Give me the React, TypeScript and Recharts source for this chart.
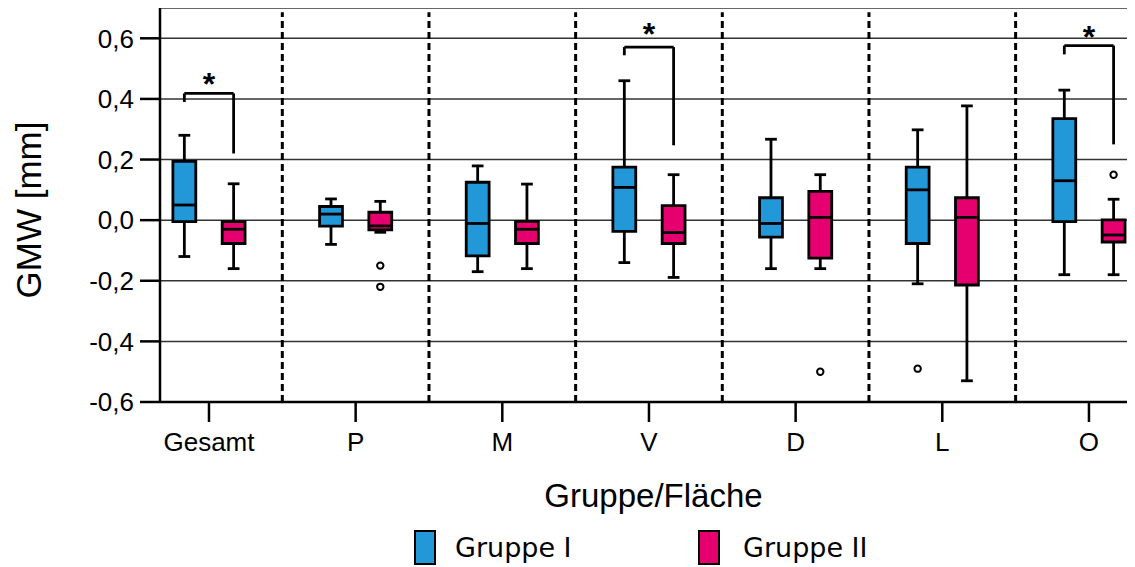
import {
  ComposedChart,
  XAxis,
  YAxis,
  CartesianGrid,
  ReferenceArea,
  ReferenceLine,
  ReferenceDot,
  Scatter,
} from "recharts";

const categories = ["Gesamt", "P", "M", "V", "D", "L", "O"];
const yTicks = [-0.6, -0.4, -0.2, 0, 0.2, 0.4, 0.6];

// Gruppe I (blue)
const g1Min = [-0.12, -0.08, -0.17, -0.14, -0.16, -0.21, -0.18];
const g1Q1 = [-0.005, -0.02, -0.118, -0.037, -0.056, -0.077, -0.005];
const g1Median = [0.05, 0.02, -0.011, 0.108, -0.011, 0.1, 0.13];
const g1Q3 = [0.194, 0.045, 0.125, 0.175, 0.074, 0.175, 0.335];
const g1Max = [0.28, 0.07, 0.179, 0.46, 0.267, 0.298, 0.429];
const g1Outliers = [{ cat: 5, value: -0.49 }];

// Gruppe II (pink)
const g2Min = [-0.16, -0.04, -0.16, -0.189, -0.16, -0.53, -0.18];
const g2Q1 = [-0.077, -0.032, -0.077, -0.077, -0.125, -0.214, -0.072];
const g2Median = [-0.03, -0.019, -0.03, -0.041, 0.009, 0.009, -0.049];
const g2Q3 = [-0.005, 0.026, -0.004, 0.048, 0.095, 0.074, 0.001];
const g2Max = [0.12, 0.062, 0.119, 0.15, 0.15, 0.377, 0.069];
const g2Outliers = [
  { cat: 1, value: -0.15 },
  { cat: 1, value: -0.22 },
  { cat: 4, value: -0.5 },
  { cat: 6, value: 0.15 },
];

// significance brackets
const sigCats = [0, 3, 6];
const sigTop = [0.418, 0.571, 0.576];
const sigLeftEnd = [0.39, 0.544, 0.547];
const sigRightEnd = [0.22, 0.247, 0.25];
const sigStarY = [0.45, 0.614, 0.606];

const BLUE = "#2398d9";
const PINK = "#e6006f";
const FONT = "'Liberation Sans', Arial, sans-serif";
const OFFSET = 0.168;
const HALF_BOX = 0.078;
const HALF_CAP = 0.04;
const LW = 2.8;

const groups = [
  { min: g1Min, q1: g1Q1, med: g1Median, q3: g1Q3, max: g1Max, color: BLUE, dx: -OFFSET, out: g1Outliers },
  { min: g2Min, q1: g2Q1, med: g2Median, q3: g2Q3, max: g2Max, color: PINK, dx: OFFSET, out: g2Outliers },
];

const Ring = (p: any) => (
  <circle cx={p.cx} cy={p.cy} r={3.2} fill="#fff" stroke="#000" strokeWidth={2} />
);

const XTitle = (p: any) => {
  const vb = p.viewBox;
  return (
    <text
      x={vb.x + vb.width / 2 + 6}
      y={vb.y + 105}
      textAnchor="middle"
      fontSize={33}
      fontFamily={FONT}
      fill="#000"
    >
      Gruppe/Fläche
    </text>
  );
};

const YTitle = (p: any) => {
  const vb = p.viewBox;
  const cx = vb.x + 33;
  const cy = vb.y + 202;
  return (
    <text
      x={cx}
      y={cy}
      transform={`rotate(-90, ${cx}, ${cy})`}
      textAnchor="middle"
      fontSize={35}
      fontFamily={FONT}
      fill="#000"
    >
      GMW [mm]
    </text>
  );
};

export default function App() {
  const whiskers: any[] = [];
  const boxes: any[] = [];
  const medians: any[] = [];

  groups.forEach((g, gi) => {
    categories.forEach((_, i) => {
      const x = i + g.dx;
      const k = `${gi}-${i}`;
      whiskers.push(
        <ReferenceLine key={`wu${k}`} segment={[{ x, y: g.q3[i] }, { x, y: g.max[i] }]} stroke="#000" strokeWidth={LW} />,
        <ReferenceLine key={`wl${k}`} segment={[{ x, y: g.min[i] }, { x, y: g.q1[i] }]} stroke="#000" strokeWidth={LW} />,
        <ReferenceLine key={`cu${k}`} segment={[{ x: x - HALF_CAP, y: g.max[i] }, { x: x + HALF_CAP, y: g.max[i] }]} stroke="#000" strokeWidth={LW} />,
        <ReferenceLine key={`cl${k}`} segment={[{ x: x - HALF_CAP, y: g.min[i] }, { x: x + HALF_CAP, y: g.min[i] }]} stroke="#000" strokeWidth={LW} />
      );
      boxes.push(
        <ReferenceArea
          key={`b${k}`}
          x1={x - HALF_BOX}
          x2={x + HALF_BOX}
          y1={g.q1[i]}
          y2={g.q3[i]}
          fill={g.color}
          fillOpacity={1}
          stroke="#000"
          strokeWidth={LW}
        />
      );
      medians.push(
        <ReferenceLine key={`m${k}`} segment={[{ x: x - HALF_BOX, y: g.med[i] }, { x: x + HALF_BOX, y: g.med[i] }]} stroke="#000" strokeWidth={LW} />
      );
    });
  });

  const separators = categories.slice(1).map((_, i) => (
    <ReferenceLine
      key={`sep${i}`}
      segment={[{ x: i + 0.5, y: -0.6 }, { x: i + 0.5, y: 0.686 }]}
      stroke="#000"
      strokeWidth={3}
      strokeDasharray="7 4"
    />
  ));

  const brackets: any[] = [];
  sigCats.forEach((c, i) => {
    const xl = c - OFFSET;
    const xr = c + OFFSET;
    brackets.push(
      <ReferenceLine key={`st${i}`} segment={[{ x: xl, y: sigTop[i] }, { x: xr, y: sigTop[i] }]} stroke="#000" strokeWidth={LW} />,
      <ReferenceLine key={`sl${i}`} segment={[{ x: xl, y: sigLeftEnd[i] }, { x: xl, y: sigTop[i] }]} stroke="#000" strokeWidth={LW} />,
      <ReferenceLine key={`sr${i}`} segment={[{ x: xr, y: sigRightEnd[i] }, { x: xr, y: sigTop[i] }]} stroke="#000" strokeWidth={LW} />,
      <ReferenceDot
        key={`ss${i}`}
        x={c}
        y={sigStarY[i]}
        r={0}
        fill="none"
        stroke="none"
        label={{ value: "*", position: "center", fontSize: 32, fontWeight: "bold", fill: "#000", fontFamily: FONT }}
      />
    );
  });

  const out1 = g1Outliers.map((o) => ({ x: o.cat - OFFSET, y: o.value }));
  const out2 = g2Outliers.map((o) => ({ x: o.cat + OFFSET, y: o.value }));

  return (
    <div style={{ position: "relative", width: 1127, height: 559, fontFamily: FONT }}>
      <ComposedChart width={1127} height={559} margin={{ top: 0, right: 0, bottom: 0, left: 0 }}>
        <CartesianGrid vertical={false} stroke="#333" strokeWidth={1.5} />
        <XAxis
          type="number"
          dataKey="x"
          domain={[-0.334, 6.314]}
          allowDataOverflow
          ticks={[0, 1, 2, 3, 4, 5, 6]}
          interval={0}
          tickFormatter={(v: number) => categories[Math.round(v)]}
          tickSize={20}
          tickMargin={11}
          tick={{ fill: "#000", fontSize: 26, fontFamily: FONT }}
          axisLine={{ stroke: "#000", strokeWidth: 2.5 }}
          tickLine={{ stroke: "#000", strokeWidth: 2.5 }}
          height={165}
          label={XTitle}
        />
        <YAxis
          type="number"
          dataKey="y"
          domain={[-0.6, 0.7]}
          allowDataOverflow
          ticks={yTicks}
          interval={0}
          tickFormatter={(v: number) => v.toFixed(1).replace(".", ",")}
          tickSize={20}
          tickMargin={6}
          tick={{ fill: "#000", fontSize: 26, fontFamily: FONT }}
          axisLine={{ stroke: "#000", strokeWidth: 2.5 }}
          tickLine={{ stroke: "#000", strokeWidth: 2.5 }}
          width={152}
          label={YTitle}
        />
        {separators}
        {whiskers}
        {boxes}
        {medians}
        {brackets}
        <Scatter data={out1} shape={Ring} isAnimationActive={false} />
        <Scatter data={out2} shape={Ring} isAnimationActive={false} />
      </ComposedChart>

      {[
        { name: "Gruppe I", color: BLUE, sw: 406, tx: 447 },
        { name: "Gruppe II", color: PINK, sw: 690, tx: 735 },
      ].map((l) => (
        <div key={l.name}>
          <div
            style={{
              position: "absolute",
              left: l.sw,
              top: 522,
              width: 18,
              height: 31,
              background: l.color,
              border: "2.5px solid #000",
            }}
          />
          <div
            style={{
              position: "absolute",
              left: l.tx,
              top: 522,
              lineHeight: "35px",
              fontSize: 27,
              fontFamily: "Verdana, 'DejaVu Sans', sans-serif",
              color: "#000",
              whiteSpace: "nowrap",
            }}
          >
            {l.name}
          </div>
        </div>
      ))}
    </div>
  );
}
